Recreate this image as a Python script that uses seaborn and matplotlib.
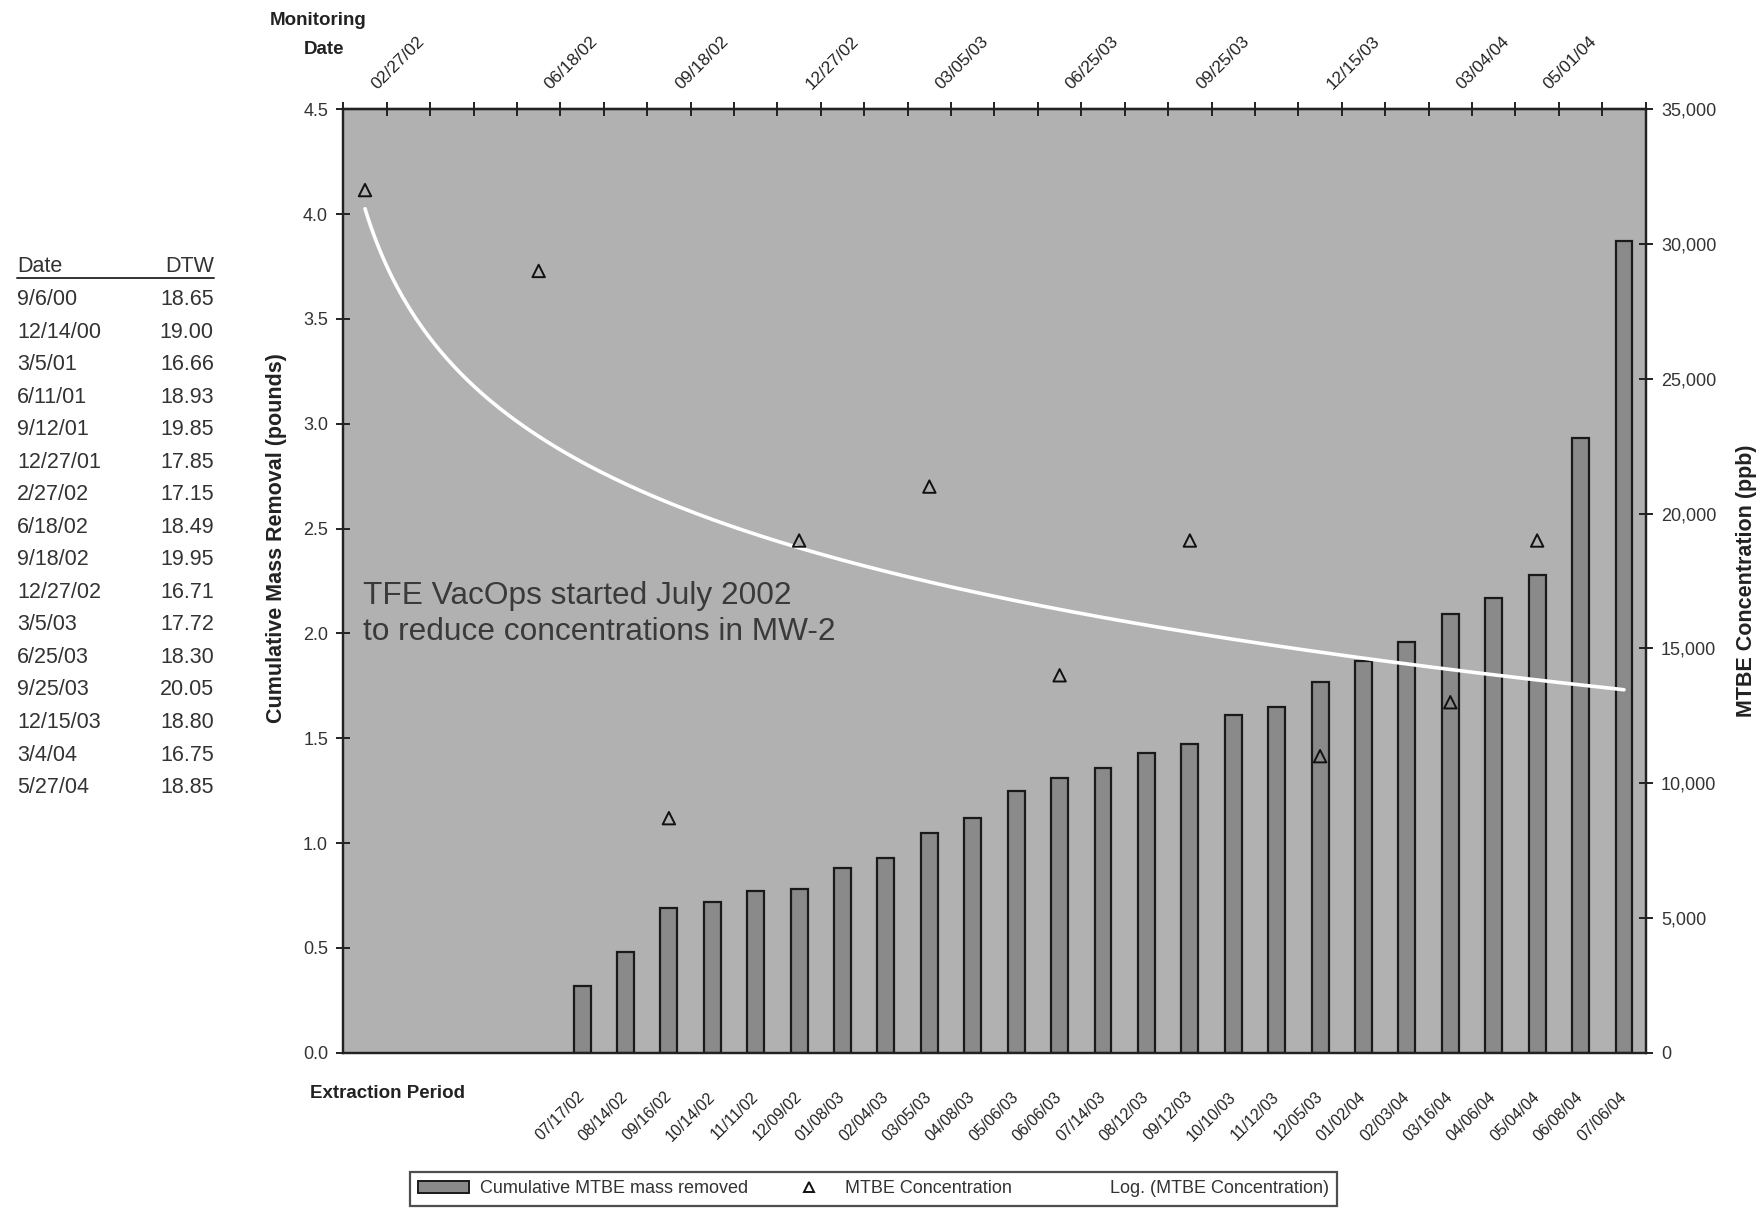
import numpy as np
import pandas as pd
import matplotlib
matplotlib.use("Agg")
import matplotlib.pyplot as plt
import matplotlib.transforms as mtransforms
import seaborn as sns
from matplotlib.lines import Line2D
from matplotlib.patches import Patch
from matplotlib.ticker import FixedLocator, FuncFormatter, MultipleLocator

# ---------------- data ----------------
extraction_periods = ["07/17/02", "08/14/02", "09/16/02", "10/14/02", "11/11/02", "12/09/02",
                      "01/08/03", "02/04/03", "03/05/03", "04/08/03", "05/06/03", "06/06/03",
                      "07/14/03", "08/12/03", "09/12/03", "10/10/03", "11/12/03", "12/05/03",
                      "01/02/04", "02/03/04", "03/16/04", "04/06/04", "05/04/04", "06/08/04",
                      "07/06/04"]
cumulative_mass = [0.32, 0.48, 0.69, 0.72, 0.77, 0.78, 0.88, 0.93, 1.05, 1.12, 1.25, 1.31,
                   1.36, 1.43, 1.47, 1.61, 1.65, 1.77, 1.87, 1.96, 2.09, 2.17, 2.28, 2.93, 3.87]
n_slots = 30                 # category slots on the shared x axis
first_extraction_slot = 5    # first five slots carry no extraction period

monitoring_dates = ["02/27/02", "06/18/02", "09/18/02", "12/27/02", "03/05/03",
                    "06/25/03", "09/25/03", "12/15/03", "03/04/04", "05/01/04"]
monitoring_slot = [0, 4, 7, 10, 13, 16, 19, 22, 25, 27]
mtbe_conc = [32000, 29000, 8700, 19000, 21000, 14000, 19000, 11000, 13000, 19000]

table_dates = ["9/6/00", "12/14/00", "3/5/01", "6/11/01", "9/12/01", "12/27/01", "2/27/02",
               "6/18/02", "9/18/02", "12/27/02", "3/5/03", "6/25/03", "9/25/03", "12/15/03",
               "3/4/04", "5/27/04"]
table_dtw = ["18.65", "19.00", "16.66", "18.93", "19.85", "17.85", "17.15", "18.49", "19.95",
             "16.71", "17.72", "18.30", "20.05", "18.80", "16.75", "18.85"]

# ---------------- style ----------------
sns.set_style("white")
plt.rcParams["font.family"] = ["Liberation Sans", "DejaVu Sans"]
NARROW = ["Liberation Sans Narrow", "Liberation Sans", "DejaVu Sans"]

bg = "#b1b1b1"
bar_col = "#8a8a8a"
ink = "#222222"

fig = plt.figure(figsize=(17.65, 12.16), dpi=100)
ax = fig.add_axes([0.1945, 0.1343, 0.9324 - 0.1945, 0.9102 - 0.1343])
ax.set_facecolor(bg)

bars_df = pd.DataFrame({
    "slot": np.arange(len(extraction_periods)) + first_extraction_slot,
    "mass": cumulative_mass,
})
sns.barplot(data=bars_df, x="slot", y="mass", native_scale=True, width=0.39,
            color=bar_col, edgecolor="#1a1a1a", linewidth=1.6, saturation=1, ax=ax, zorder=2)

ax.set_xlim(-0.5, n_slots - 0.5)
ax.set_ylim(0, 4.5)
ax.yaxis.set_major_locator(MultipleLocator(0.5))
ax.yaxis.set_major_formatter(FuncFormatter(lambda v, p: f"{v:.1f}"))
ax.set_xlabel("")
ax.set_ylabel("Cumulative Mass Removal (pounds)", family=NARROW, fontsize=15.5,
              fontweight="bold", color=ink)
ax.yaxis.set_label_coords(-0.0435, 0.545)

boundaries = np.arange(n_slots + 1) - 0.5
ax.xaxis.set_major_locator(FixedLocator(list(bars_df["slot"])))
ax.set_xticklabels(extraction_periods, rotation=45, ha="right", va="center",
                   rotation_mode="anchor", family=NARROW, fontsize=11.5, color=ink)
ax.xaxis.set_minor_locator(FixedLocator(boundaries))
ax.tick_params(axis="x", which="major", length=0, pad=30)
ax.tick_params(axis="x", which="minor", length=10, width=1.4, direction="inout", color=ink)
ax.tick_params(axis="y", which="major", length=10, width=1.4, direction="inout",
               color=ink, labelsize=13, labelcolor="#333333", pad=6)

# secondary y axis: concentration
ax2 = ax.twinx()
ax2.set_ylim(0, 35000)
ax2.yaxis.set_major_locator(MultipleLocator(5000))
ax2.yaxis.set_major_formatter(FuncFormatter(lambda v, p: f"{int(v):,}"))
ax2.tick_params(axis="y", which="major", length=10, width=1.4, direction="inout",
                color=ink, labelsize=13, labelcolor="#333333", pad=6)
ax2.set_ylabel("MTBE Concentration (ppb)", family=NARROW, fontsize=15.5,
               fontweight="bold", color=ink, labelpad=14)

conc_df = pd.DataFrame({"slot": monitoring_slot, "conc": mtbe_conc})

# logarithmic trendline (Excel-style: y = a ln(x) + b, x = category number)
a, b = np.polyfit(np.log(np.array(monitoring_slot) + 1.0), np.array(mtbe_conc, float), 1)
xs = np.linspace(0, n_slots - 1, 400)
trend_df = pd.DataFrame({"slot": xs, "conc": a * np.log(xs + 1.0) + b})
sns.lineplot(data=trend_df, x="slot", y="conc", color="white", linewidth=2.6, ax=ax2,
             zorder=3)

sns.scatterplot(data=conc_df, x="slot", y="conc", marker="^", s=80, facecolor="none",
                edgecolor="#111111", linewidth=1.4, ax=ax2, zorder=4)
ax2.set_xlabel("")
ax2.set_xlim(-0.5, n_slots - 0.5)

# top axis: monitoring dates
sec = ax.secondary_xaxis("top")
sec.xaxis.set_major_locator(FixedLocator(monitoring_slot))
sec.set_xticklabels(monitoring_dates, rotation=45, ha="left", va="center",
                    rotation_mode="anchor", family=NARROW, fontsize=12.5, color=ink)
sec.xaxis.set_minor_locator(FixedLocator(boundaries))
sec.tick_params(axis="x", which="major", length=0, pad=16)
sec.tick_params(axis="x", which="minor", length=10, width=1.4, direction="inout", color=ink)
sec.spines["top"].set_linewidth(1.6)
sec.spines["top"].set_color(ink)
shift = mtransforms.ScaledTranslation(9 / 100, 0, fig.dpi_scale_trans)
for lbl in sec.get_xticklabels():
    lbl.set_transform(lbl.get_transform() + shift)

for axis in (ax, ax2):
    for s in axis.spines.values():
        s.set_visible(True)
        s.set_linewidth(1.6)
        s.set_color(ink)

# annotation inside plot
ax.text(0.015, 0.465, "TFE VacOps started July 2002\nto reduce concentrations in MW-2",
        transform=ax.transAxes, fontsize=22.8, color="#3a3a3a", linespacing=1.25,
        va="center", ha="left", zorder=5)

# axis captions
fig.text(240 / 1568, 1 - 18 / 1080, "Monitoring", fontsize=13.5, fontweight="bold",
         color=ink, ha="left", va="center")
fig.text(270 / 1568, 1 - 44 / 1080, "Date", fontsize=13.5, fontweight="bold",
         color=ink, ha="left", va="center")
fig.text(275 / 1568, 1 - 971 / 1080, "Extraction Period", fontsize=13.5, fontweight="bold",
         color=ink, ha="left", va="center")

# DTW table
x_date = 15 / 1568
x_dtw = 190 / 1568
y_head = 1 - 237 / 1080
row_h = 28.9 / 1080
fig.text(x_date, y_head, "Date", fontsize=15.5, color="#333333", ha="left", va="center")
fig.text(x_dtw, y_head, "DTW", fontsize=15.5, color="#333333", ha="right", va="center")
fig.add_artist(Line2D([x_date, x_dtw], [1 - 247 / 1080] * 2, transform=fig.transFigure,
                      color="#333333", linewidth=1.4))
for i, (d, v) in enumerate(zip(table_dates, table_dtw)):
    y = 1 - (266 + i * row_h * 1080) / 1080
    fig.text(x_date, y, d, fontsize=15.5, color="#333333", ha="left", va="center")
    fig.text(x_dtw, y, v, fontsize=15.5, color="#333333", ha="right", va="center")

# legend
handles = [
    Patch(facecolor=bar_col, edgecolor="#1a1a1a", linewidth=1.4),
    Line2D([], [], linestyle="none", marker="^", markersize=7, markerfacecolor="none",
           markeredgecolor="#111111", markeredgewidth=1.4),
    Line2D([], [], color="white", linewidth=2.5),
]
labels = ["Cumulative MTBE mass removed", "MTBE Concentration", "Log. (MTBE Concentration)"]
leg = fig.legend(handles, labels, loc="center", bbox_to_anchor=(776 / 1568, 1 - 1056 / 1080),
                 ncol=3, frameon=True, fancybox=False, edgecolor="#222222",
                 prop={"family": NARROW, "size": 13}, columnspacing=2.0,
                 handlelength=2.8, handletextpad=0.6, borderpad=0.45)
leg.get_frame().set_linewidth(1.6)
for t in leg.get_texts():
    t.set_color("#333333")

fig.savefig("out.png", dpi=100, facecolor="white")
